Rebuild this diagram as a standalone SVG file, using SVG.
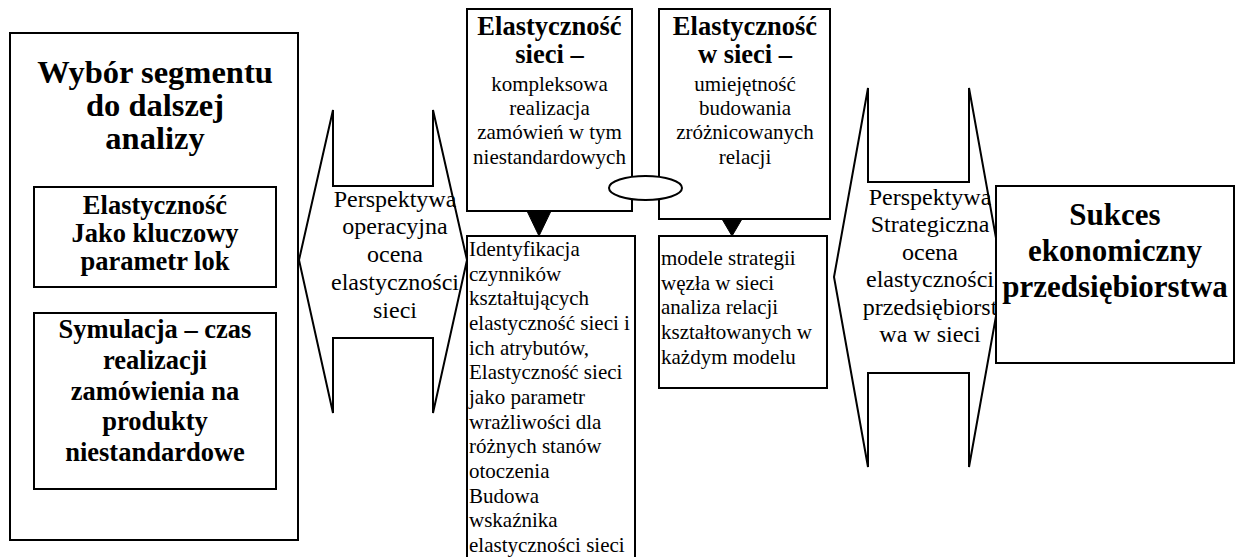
<svg xmlns="http://www.w3.org/2000/svg" width="1235" height="557" viewBox="0 0 1235 557">
<style>
.box{fill:#fff;stroke:#000;stroke-width:2}
.shape{fill:#fff;stroke:#000;stroke-width:2;stroke-linejoin:miter}
text{font-family:"Liberation Serif","Times New Roman",serif;fill:#000}
.c{text-anchor:middle}
.b{font-weight:bold}
.t32{font-size:32.5px}
.t31{font-size:31px}
.t26{font-size:26.5px}
.t24{font-size:24px}
.t21{font-size:21px}
</style>
<rect width="1235" height="557" fill="#fff"/>

<g id="segment">
<rect class="box" x="10" y="33" width="288" height="507"/>
<text class="c b t32" x="155"><tspan x="155" y="83">Wybór segmentu</tspan><tspan x="155" y="116">do dalszej</tspan><tspan x="155" y="149">analizy</tspan></text>
</g>
<g id="kluczowy">
<rect class="box" x="34" y="187" width="242" height="100"/>
<text class="c b t26"><tspan x="155" y="214">Elastyczność</tspan><tspan x="155" y="242">Jako kluczowy</tspan><tspan x="155" y="270">parametr lok</tspan></text>
</g>
<g id="symulacja">
<rect class="box" x="34" y="313" width="242" height="176"/>
<text class="c b t26"><tspan x="155" y="338">Symulacja – czas</tspan><tspan x="155" y="369">realizacji</tspan><tspan x="155" y="400">zamówienia na</tspan><tspan x="155" y="430">produkty</tspan><tspan x="155" y="461">niestandardowe</tspan></text>
</g>

<g id="perspektywa-operacyjna">
<polygon class="shape" points="299,260 333,110 333,186 433,186 433,110 467,260 433,413 433,338 333,338 333,413"/>
<text class="c t24"><tspan x="395" y="207">Perspektywa</tspan><tspan x="395" y="234">operacyjna</tspan><tspan x="395" y="262">ocena</tspan><tspan x="395" y="290">elastyczności</tspan><tspan x="395" y="318">sieci</tspan></text>
</g>

<g id="elastycznosc-sieci">
<rect class="box" x="467" y="9" width="165" height="202"/>
<text class="c"><tspan class="b t26" x="549.5" y="35">Elastyczność</tspan><tspan class="b t26" x="549.5" y="63">sieci –</tspan><tspan class="t21" x="549.5" y="91">kompleksowa</tspan><tspan class="t21" x="549.5" y="115">realizacja</tspan><tspan class="t21" x="549.5" y="139">zamówień w tym</tspan><tspan class="t21" x="549.5" y="164">niestandardowych</tspan></text>
</g>

<g id="elastycznosc-w-sieci">
<rect class="box" x="659" y="9" width="171" height="210"/>
<text class="c"><tspan class="b t26" x="745" y="35">Elastyczność</tspan><tspan class="b t26" x="745" y="63">w sieci –</tspan><tspan class="t21" x="745" y="91">umiejętność</tspan><tspan class="t21" x="745" y="115">budowania</tspan><tspan class="t21" x="745" y="139">zróżnicowanych</tspan><tspan class="t21" x="745" y="164">relacji</tspan></text>
</g>

<g id="ellipse">
<ellipse class="shape" cx="645.5" cy="188" rx="36.5" ry="12"/>
</g>

<g id="identyfikacja">
<rect class="box" x="467" y="236" width="168" height="340"/>
<text class="t21"><tspan x="469" y="256">Identyfikacja</tspan><tspan x="469" y="280.7">czynników</tspan><tspan x="469" y="305.3">kształtujących</tspan><tspan x="469" y="330">elastyczność sieci i</tspan><tspan x="469" y="354.7">ich atrybutów,</tspan><tspan x="469" y="379.3">Elastyczność sieci</tspan><tspan x="469" y="404">jako parametr</tspan><tspan x="469" y="428.7">wrażliwości dla</tspan><tspan x="469" y="453.3">różnych stanów</tspan><tspan x="469" y="478">otoczenia</tspan><tspan x="469" y="502.7">Budowa</tspan><tspan x="469" y="527.3">wskaźnika</tspan><tspan x="469" y="552">elastyczności sieci</tspan></text>
</g>

<g id="modele">
<rect class="box" x="659" y="236" width="168" height="152"/>
<text class="t21"><tspan x="661" y="265">modele strategii</tspan><tspan x="661" y="289.7">węzła w sieci</tspan><tspan x="661" y="314.3">analiza relacji</tspan><tspan x="661" y="339">kształtowanych w</tspan><tspan x="661" y="363.7">każdym modelu</tspan></text>
</g>

<g id="perspektywa-strategiczna">
<polygon class="shape" points="834,277 868,88 868,182 969,182 969,88 1003,277 969,467 969,373 868,373 868,467"/>
<text class="c t24"><tspan x="930" y="205">Perspektywa</tspan><tspan x="930" y="232">Strategiczna</tspan><tspan x="930" y="260">ocena</tspan><tspan x="930" y="287">elastyczności</tspan><tspan x="930" y="315">przedsiębiorst</tspan><tspan x="930" y="342">wa w sieci</tspan></text>
</g>

<g id="sukces">
<rect class="box" x="996" y="186" width="238" height="177"/>
<text class="c b t31"><tspan x="1115" y="225">Sukces</tspan><tspan x="1115" y="261">ekonomiczny</tspan><tspan x="1115" y="297">przedsiębiorstwa</tspan></text>
</g>

<g id="connectors">
<polygon points="527,211 551,211 539,236" fill="#000" stroke="#000" stroke-width="1"/>
<polygon points="722,219 742,219 732,236" fill="#000" stroke="#000" stroke-width="1"/>
</g>
</svg>
